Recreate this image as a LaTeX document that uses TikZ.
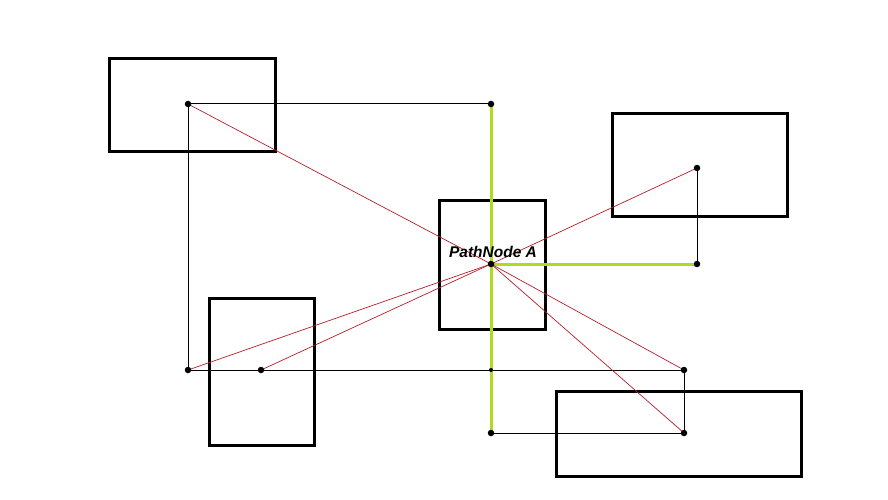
\documentclass[tikz,border=0pt]{standalone}
\usepackage{fontspec}
\setmainfont{Liberation Sans}
\usetikzlibrary{positioning}

\definecolor{PathGreen}{RGB}{176,218,30}
\definecolor{LinkRed}{RGB}{180,30,40}

\begin{document}
\begin{tikzpicture}[x=1pt, y=-1pt]
    \tikzset{BoxStyle/.style = {draw=black, line width=3pt, inner sep=0pt}}
    \tikzset{DotStyle/.style = {circle, inner sep=0pt, minimum size=6.5pt}}
    \tikzset{EdgeStyle/.style = {draw=black, line width=1pt}}
    \tikzset{PathStyle/.style = {draw=PathGreen, line width=3pt}}
    \tikzset{LinkStyle/.style = {draw=LinkRed, line width=0.7pt}}
    \useasboundingbox (0,0) rectangle (888,500);

    % obstacles
    \node[BoxStyle, minimum width=166pt, minimum height=92pt] (B1) at (192,105) {};
    \node[BoxStyle, minimum width=175pt, minimum height=102pt] (B2) at (699.5,165) {};
    \node[BoxStyle, minimum width=106pt, minimum height=129pt] (B3) at (492,264.5) {};
    \node[BoxStyle, minimum width=105pt, minimum height=147pt] (B4) at (261.5,371.5) {};
    \node[BoxStyle, minimum width=245pt, minimum height=85pt] (B5) at (678.5,433.5) {};

    % path nodes
    \node[DotStyle] (A) at (491,264) {};
    \node[DotStyle] (N1) at (188,104) {};
    \node[DotStyle] (N2) at (491,104) {};
    \node[DotStyle] (N3) at (697,168) {};
    \node[DotStyle] (N4) at (697,264) {};
    \node[DotStyle] (N5) at (188,370) {};
    \node[DotStyle] (N6) at (261,370) {};
    \node[DotStyle] (N7) at (491,370) {};
    \node[DotStyle] (N8) at (684,370) {};
    \node[DotStyle] (N9) at (491,433) {};
    \node[DotStyle] (N10) at (684,433) {};

    \draw[EdgeStyle] (N1.center) -- (N2.center);
    \draw[EdgeStyle] (N1.center) -- (N5.center);
    \draw[EdgeStyle] (N5.center) -- (N8.center);
    \draw[EdgeStyle] (N8.center) -- (N10.center);
    \draw[EdgeStyle] (N9.center) -- (N10.center);
    \draw[EdgeStyle] (N3.center) -- (N4.center);

    \draw[PathStyle] (N2.center) -- (N9.center);
    \draw[PathStyle] (A.center) -- (N4.center);

    \draw[LinkStyle] (A.center) -- (N1.center);
    \draw[LinkStyle] (A.center) -- (N3.center);
    \draw[LinkStyle] (A.center) -- (N5.center);
    \draw[LinkStyle] (A.center) -- (N6.center);
    \draw[LinkStyle] (A.center) -- (N8.center);
    \draw[LinkStyle] (A.center) -- (N10.center);

    \foreach \n in {A,N1,N2,N3,N4,N5,N6,N8,N9,N10}
        \fill (\n) circle (3.25pt);
    \fill (N7) circle (2pt);

    \node[font=\bfseries\itshape\fontsize{15.5}{18}\selectfont, above=-1pt of A, xshift=2pt] (LA) {PathNode A};
\end{tikzpicture}
\end{document}
